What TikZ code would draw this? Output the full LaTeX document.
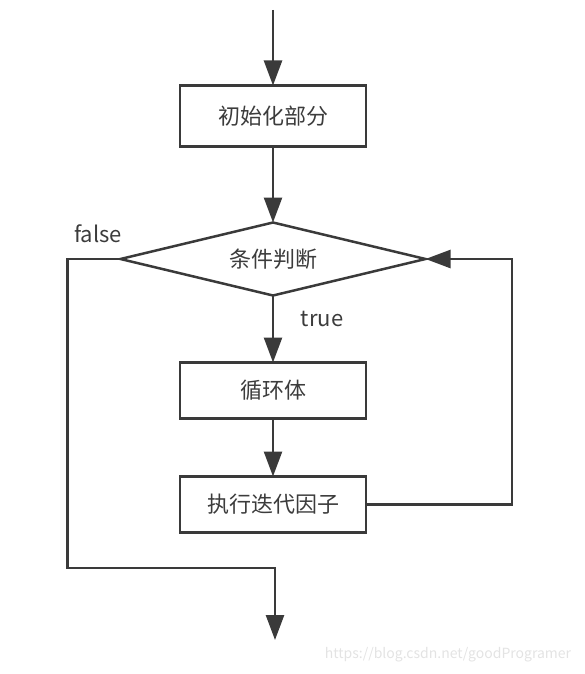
\documentclass[tikz,border=0pt]{standalone}
\usepackage{fontspec}
\setmainfont{Noto Sans CJK SC}
\usetikzlibrary{positioning, arrows.meta, shapes.geometric}
\definecolor{linegray}{HTML}{3A3A3A}
\definecolor{textgray}{HTML}{3C3C3C}

\begin{document}
\begin{tikzpicture}[
x=1pt, y=-1pt,
line width=2.5pt, draw=linegray,
>={Triangle[length=25pt,width=18pt]},
every node/.style={text=textgray, font=\fontsize{22}{26}\selectfont, outer sep=0pt},
stepbox/.style={rectangle, draw=linegray, minimum width=186pt, minimum height=56pt},
testbox/.style={diamond, draw=linegray, aspect=4, inner sep=0pt, minimum width=305pt, minimum height=73pt},
]
\useasboundingbox (0,0) rectangle (584,674);

\coordinate (start) at (273,10);
\node[stepbox, minimum height=61pt] (init) at (273,116) {初始化部分};
\node[testbox] (cond) [below=76pt of init] {条件判断};
\node[stepbox] (body) [below=67pt of cond] {循环体};
\node[stepbox] (iter) [below=58pt of body] {执行迭代因子};
\coordinate (out) at (275,640);
%Labels
\node (false) at (98,234) {false};
\node (true) at (322,319) {true};
\node[text=gray!22, font=\fontsize{14}{16}\selectfont] (mark) at (448,655) {https://blog.csdn.net/goodProgramer};
%Lines
\draw[->] (start) -- (init);
\draw[->] (init) -- (cond);
\draw[->] (cond) -- (body);
\draw[->] (body) -- (iter);
\draw[->] (iter.east) -- ++(146,0) |- (cond.east);
\draw[->] (cond.west) -- ++(-53,0) -- ++(0,309) -| (out);
\end{tikzpicture}
\end{document}
